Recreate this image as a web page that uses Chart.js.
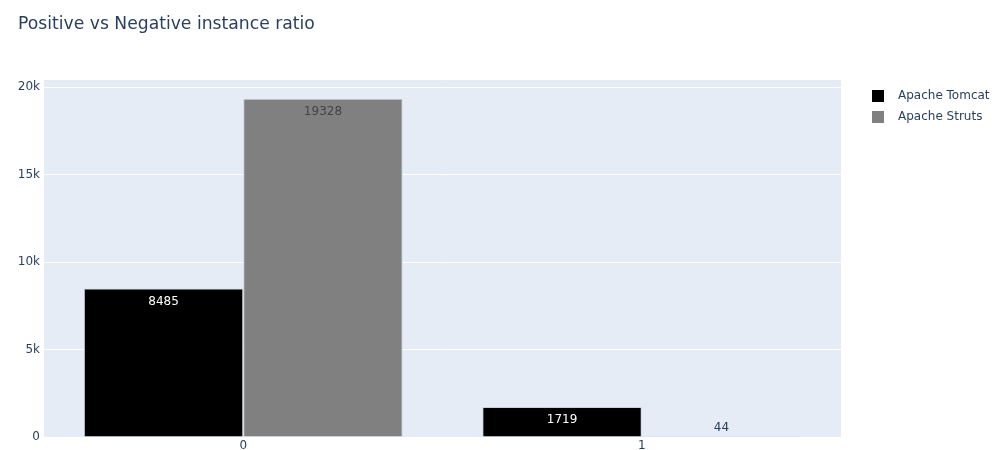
<!DOCTYPE html>
<html>
<head>
<meta charset="utf-8">
<script src="https://cdn.jsdelivr.net/npm/chart.js@4/dist/chart.umd.min.js"></script>
<style>
  html, body { margin: 0; padding: 0; background: #fff; }
  #wrap { position: relative; width: 1002px; height: 450px; }
</style>
</head>
<body>
<div id="wrap"><canvas id="chart" width="1002" height="450"></canvas></div>
<script>
// classes and instance counts per project
const categories = ['0', '1'];
const tomcatCounts = [8485, 1719];
const strutsCounts = [19328, 44];
const seriesNames = ['Apache Tomcat', 'Apache Struts'];
const seriesColors = ['#000000', '#808080'];
const yTicks = [0, 5000, 10000, 15000, 20000];

const FONT = '"DejaVu Sans", Verdana, sans-serif';
const INK = '#2a3f5f';

// background of the plot area
const plotBg = {
    id: 'plotBg',
    beforeDraw(chart) {
        const { ctx, chartArea: a } = chart;
        ctx.save();
        ctx.fillStyle = '#e5ecf6';
        ctx.fillRect(a.left, a.top, a.right - a.left, a.bottom - a.top);
        ctx.restore();
    }
};

// title + legend on the right
const decorations = {
    id: 'decorations',
    afterDraw(chart) {
        const ctx = chart.ctx;
        ctx.save();
        ctx.fillStyle = INK;
        ctx.font = '17.2px ' + FONT;
        ctx.textBaseline = 'middle';
        ctx.textAlign = 'left';
        ctx.fillText('Positive vs Negative instance ratio', 18, 25);

        ctx.font = '12px ' + FONT;
        chart.data.datasets.forEach((ds, i) => {
            const y = 96 + i * 21;
            ctx.fillStyle = ds.backgroundColor;
            ctx.fillRect(872, y - 6, 12, 12);
            ctx.fillStyle = INK;
            ctx.fillText(ds.label, 898, y);
        });
        ctx.restore();
    }
};

// value labels, inside the bar top when there is room
const valueLabels = {
    id: 'valueLabels',
    afterDatasetsDraw(chart) {
        const ctx = chart.ctx;
        ctx.save();
        ctx.font = '12px ' + FONT;
        ctx.textAlign = 'center';
        chart.data.datasets.forEach((ds, i) => {
            chart.getDatasetMeta(i).data.forEach((bar, j) => {
                const v = ds.data[j];
                const h = bar.base - bar.y;
                if (h > 20) {
                    ctx.textBaseline = 'top';
                    ctx.fillStyle = i === 0 ? '#ffffff' : '#444444';
                    ctx.fillText(String(v), bar.x, bar.y + 7);
                } else {
                    ctx.textBaseline = 'bottom';
                    ctx.fillStyle = INK;
                    ctx.fillText(String(v), bar.x, bar.y - 2);
                }
            });
        });
        ctx.restore();
    }
};

new Chart(document.getElementById('chart'), {
    type: 'bar',
    data: {
        labels: categories,
        datasets: [
            { label: seriesNames[0], data: tomcatCounts, backgroundColor: seriesColors[0] },
            { label: seriesNames[1], data: strutsCounts, backgroundColor: seriesColors[1] }
        ]
    },
    options: {
        responsive: false,
        animation: false,
        layout: { padding: { left: 0, right: 161, top: 80, bottom: 0 } },
        datasets: {
            bar: {
                categoryPercentage: 0.8,
                barPercentage: 1.0,
                borderWidth: 1,
                borderColor: '#c8cfda'
            }
        },
        plugins: {
            legend: { display: false },
            tooltip: { enabled: false }
        },
        scales: {
            x: {
                grid: { display: false, drawTicks: false },
                border: { display: false },
                ticks: { color: INK, font: { family: FONT, size: 12 }, padding: 2 },
                afterFit(scale) { scale.height = 13; }
            },
            y: {
                min: 0,
                max: 20400,
                afterBuildTicks(scale) { scale.ticks = yTicks.map(v => ({ value: v })); },
                grid: { color: '#ffffff', lineWidth: 1, drawTicks: false },
                border: { display: false },
                ticks: {
                    color: INK,
                    font: { family: FONT, size: 12 },
                    padding: 4,
                    callback: v => v === 0 ? '0' : (v / 1000) + 'k'
                },
                afterFit(scale) { scale.width = 44; }
            }
        }
    },
    plugins: [plotBg, valueLabels, decorations]
});
</script>
</body>
</html>
